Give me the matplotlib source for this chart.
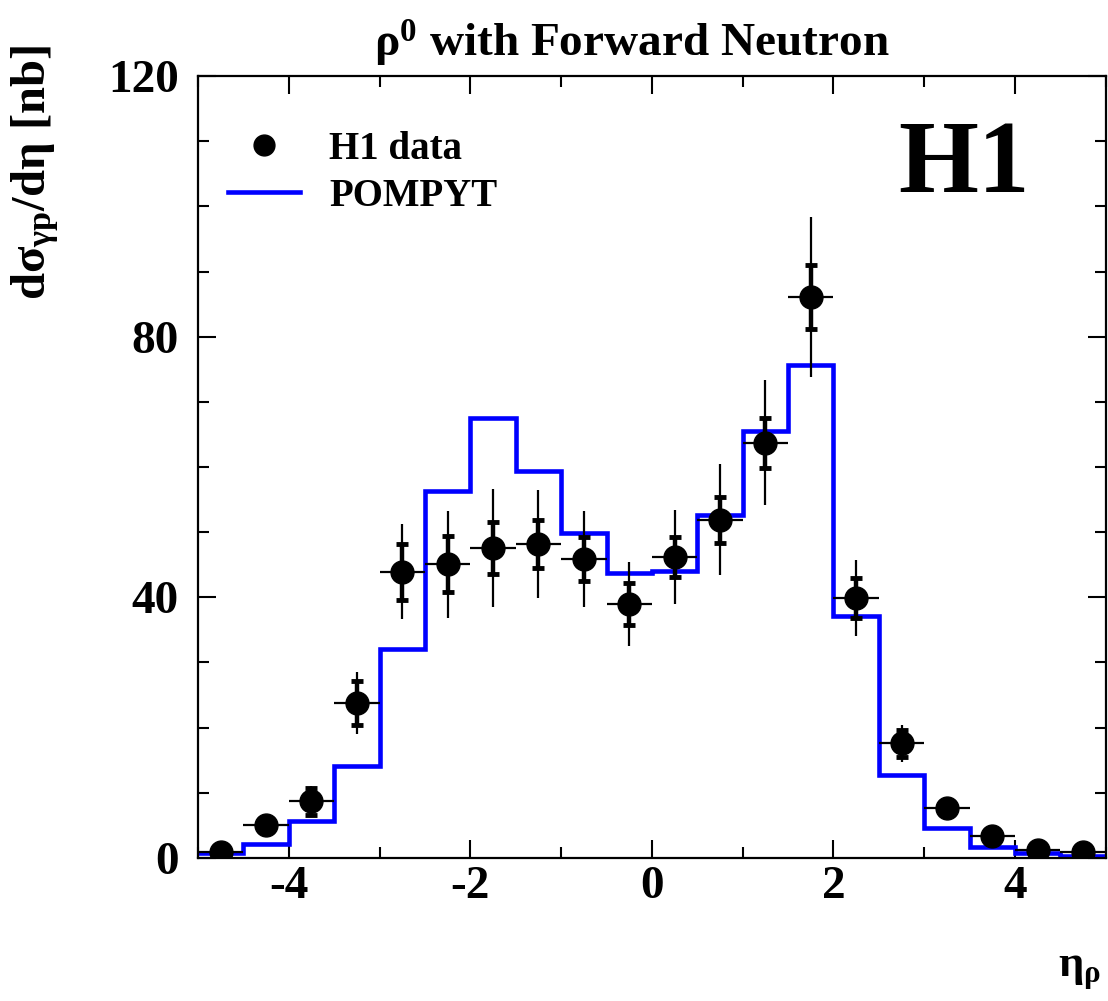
import numpy as np
import matplotlib
matplotlib.use('Agg')
import matplotlib.pyplot as plt
from matplotlib.lines import Line2D
from matplotlib.ticker import MultipleLocator

plt.rcParams.update({
    'font.family': 'Liberation Serif',
    'font.weight': 'bold',
    'mathtext.fontset': 'custom',
    'mathtext.rm': 'Liberation Serif',
    'mathtext.it': 'Liberation Serif:italic',
    'mathtext.bf': 'Liberation Serif:bold',
    'mathtext.default': 'bf',
    'axes.unicode_minus': False,
})

# eta bin edges and data (H1, rho0 with forward neutron)
bin_edges = np.arange(-5.0, 5.01, 0.5)
eta_centres = [-4.75, -4.25, -3.75, -3.25, -2.75, -2.25, -1.75, -1.25, -0.75, -0.25,
               0.25, 0.75, 1.25, 1.75, 2.25, 2.75, 3.25, 3.75, 4.25, 4.75]
dsigma = [0.9, 5.1, 8.7, 23.8, 43.9, 45.1, 47.6, 48.2, 45.9, 39.0,
          46.2, 51.9, 63.7, 86.1, 39.9, 17.6, 7.7, 3.4, 1.2, 0.9]
err_stat = [0.3, 0.6, 2.1, 3.4, 4.3, 4.3, 4.0, 3.7, 3.4, 3.2,
            3.1, 3.5, 3.8, 4.9, 3.1, 2.1, 0.8, 0.5, 0.3, 0.2]
err_tot = [0.4, 0.8, 2.4, 4.7, 7.3, 8.2, 9.1, 8.3, 7.4, 6.4,
           7.2, 8.5, 9.6, 12.3, 5.8, 2.8, 1.0, 0.7, 0.4, 0.3]
bin_halfwidth = [0.25] * len(eta_centres)

# POMPYT prediction per bin
pompyt = [0.8, 2.1, 5.7, 14.1, 32.1, 56.3, 67.5, 59.4, 49.9, 43.7,
          44.0, 52.6, 65.5, 75.6, 37.1, 12.7, 4.6, 1.7, 0.8, 0.3]

fig = plt.figure(figsize=(11.08, 10.01), dpi=100)
ax = fig.add_axes([0.1787, 0.1429, 0.8193, 0.7811])

ax.stairs(pompyt, bin_edges, baseline=None, color='#0000ff', linewidth=3.3, zorder=2)

# total errors (thin), then statistical errors (thick with ticks)
ax.errorbar(eta_centres, dsigma, yerr=err_tot, xerr=bin_halfwidth, fmt='none',
            ecolor='black', elinewidth=1.6, capsize=0, zorder=3)
ax.errorbar(eta_centres, dsigma, yerr=err_stat, fmt='none', ecolor='black',
            elinewidth=3.2, capsize=4, capthick=3.5, zorder=3)
ax.plot(eta_centres, dsigma, 'o', color='black', markersize=16.5, zorder=4)

ax.set_xlim(-5, 5)
ax.set_ylim(0, 120)
ax.xaxis.set_major_locator(MultipleLocator(2))
ax.xaxis.set_minor_locator(MultipleLocator(1))
ax.yaxis.set_major_locator(MultipleLocator(40))
ax.yaxis.set_minor_locator(MultipleLocator(10))
ax.tick_params(which='both', direction='in', top=True, right=True, width=1.5,
               labelsize=34)
ax.tick_params(which='major', length=13)
ax.tick_params(which='minor', length=8)
ax.tick_params(axis='x', pad=6)
ax.tick_params(axis='y', pad=14)
for s in ax.spines.values():
    s.set_linewidth(1.6)

ax.set_title(r'$\mathrm{\rho}^{0}$ with Forward Neutron', fontsize=34,
             fontweight='bold', pad=14, x=0.478)
fig.text(35 / 1108, 1 - 45 / 1001,
         r'd$\mathrm{\sigma}_{\gamma p}$/d$\mathrm{\eta}$ [nb]', fontsize=35,
         fontweight='bold', rotation=90, ha='center', va='top')
ax.set_xlabel(r'$\mathrm{\eta}_{\rho}$', fontsize=32, loc='right')
ax.xaxis.set_label_coords(0.995, -0.12)

ax.text(0.916, 0.884, 'H1', transform=ax.transAxes, fontsize=74, fontweight='bold',
        ha='right', va='center')

handles = [Line2D([], [], marker='o', color='black', linestyle='none', markersize=15),
           Line2D([], [], color='#0000ff', linewidth=3.3)]
ax.legend(handles, ['H1 data', 'POMPYT'], loc='upper left', bbox_to_anchor=(0.033, 0.93),
          frameon=False, fontsize=28, handlelength=1.85, handletextpad=0.75,
          labelspacing=0.25, borderpad=0, borderaxespad=0)

fig.savefig('out.png', dpi=100)
